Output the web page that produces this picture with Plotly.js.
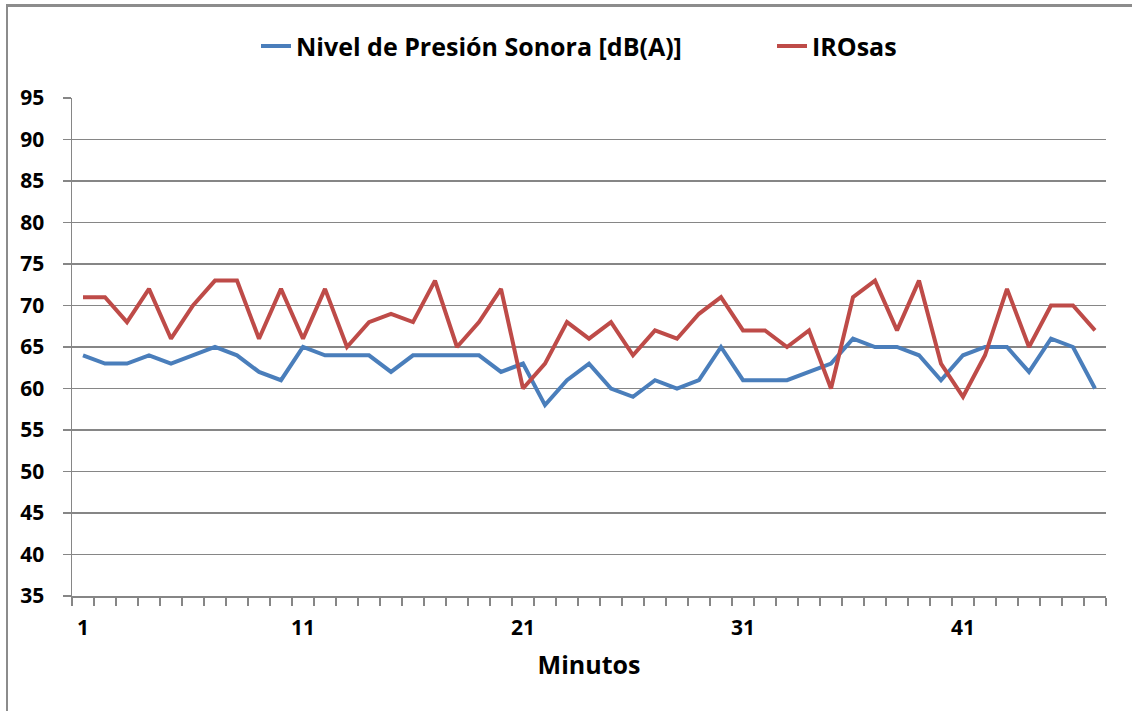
<!DOCTYPE html>
<html>
<head>
<meta charset="utf-8">
<script src="https://cdn.plot.ly/plotly-3.0.1.min.js"></script>
<style>
  html, body { margin: 0; padding: 0; background: #fff; }
  #wrap { position: relative; width: 1132px; height: 711px; overflow: hidden; }
  #chart { position: absolute; left: 0; top: 0; width: 1132px; height: 711px; }
  #frame { position: absolute; left: 6px; top: 4px; width: 1300px; height: 900px;
           border-top: 3px solid #8c8c8c; border-left: 2px solid #8c8c8c; pointer-events: none; }
</style>
</head>
<body>
<div id="wrap"><div id="chart"></div><div id="frame"></div></div>
<script>
const minutos = [];
for (let i = 1; i <= 47; i++) minutos.push(i);

const nivelPresion = [64,63,63,64,63,64,65,64,62,61, 65,64,64,64,62,64,64,64,64,62,
                      63,58,61,63,60,59,61,60,61,65, 61,61,61,62,63,66,65,65,64,61,
                      64,65,65,62,66,65,60];
const irosas = [71,71,68,72,66,70,73,73,66,72, 66,72,65,68,69,68,73,65,68,72,
                60,63,68,66,68,64,67,66,69,71, 67,67,65,67,60,71,73,67,73,63,
                59,64,72,65,70,70,67];

const xTickVals = [1, 11, 21, 31, 41];
const seriesNames = ['Nivel de Presión Sonora [dB(A)]', 'IROsas'];

const font = {family: '"Open Sans", "DejaVu Sans", sans-serif', color: '#000', weight: 'bold'};

const traces = [
  {x: minutos, y: nivelPresion, name: seriesNames[0], type: 'scatter', mode: 'lines',
   line: {color: '#4A7EBB', width: 4}, legend: 'legend'},
  {x: minutos, y: irosas, name: seriesNames[1], type: 'scatter', mode: 'lines',
   line: {color: '#BE4B48', width: 4}, legend: 'legend2'}
];

const legendFont = Object.assign({size: 25}, font);
const layout = {
  width: 1132, height: 711,
  margin: {l: 72, r: 26, t: 98, b: 115, autoexpand: false},
  paper_bgcolor: '#fff', plot_bgcolor: '#fff',
  font: Object.assign({size: 21}, font),
  showlegend: true,
  legend: {orientation: 'h', x: (256 - 72) / 1034, xanchor: 'left', y: 1.104, yanchor: 'middle',
           font: legendFont},
  legend2: {orientation: 'h', x: (772 - 72) / 1034, xanchor: 'left', y: 1.104, yanchor: 'middle',
           font: legendFont},
  xaxis: {
    range: [0.5, 47.5], tickmode: 'array', tickvals: xTickVals, ticktext: xTickVals.map(String),
    ticks: '', showgrid: false, zeroline: false,
    showline: true, linecolor: '#868686', linewidth: 1.5,
    ticklabelstandoff: 12,
    tickfont: Object.assign({size: 21}, font),
    minor: {tick0: 0.5, dtick: 1, ticks: 'outside', ticklen: 8, tickcolor: '#868686', tickwidth: 1.5, showgrid: false},
    title: {text: 'Minutos', font: Object.assign({size: 25}, font), standoff: 17}
  },
  yaxis: {
    range: [35, 95], dtick: 5, tick0: 35,
    ticks: 'outside', ticklen: 8, tickcolor: '#868686', tickwidth: 1.5,
    showgrid: true, gridcolor: '#868686', gridwidth: 1.2, zeroline: false,
    showline: true, linecolor: '#868686', linewidth: 1.5,
    ticklabelstandoff: 14,
    tickfont: Object.assign({size: 21}, font)
  }
};

Plotly.newPlot('chart', traces, layout, {displayModeBar: false, staticPlot: true});
</script>
</body>
</html>
